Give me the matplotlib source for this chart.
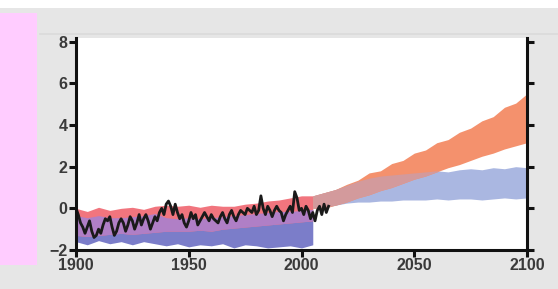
import numpy as np
import matplotlib.pyplot as plt
from matplotlib.patches import Rectangle
from matplotlib.lines import Line2D

# historical model ranges (1900-2005, every 5 years)
hist_years = [1900, 1905, 1910, 1915, 1920, 1925, 1930, 1935, 1940, 1945, 1950,
              1955, 1960, 1965, 1970, 1975, 1980, 1985, 1990, 1995, 2000, 2005]
hist_red_hi = [0.0, -0.15, 0.05, -0.1, 0.0, 0.05, -0.05, 0.1, 0.15, 0.1, 0.15,
               0.05, 0.15, 0.1, 0.1, 0.2, 0.25, 0.35, 0.4, 0.5, 0.6, 0.6]
hist_red_lo = [-1.3, -1.35, -1.3, -1.25, -1.2, -1.25, -1.2, -1.15, -1.1, -1.1, -1.1,
               -1.05, -1.1, -1.0, -0.95, -0.9, -0.85, -0.8, -0.75, -0.7, -0.65, -0.6]
hist_blue_hi = [-0.35, -0.45, -0.35, -0.45, -0.45, -0.4, -0.35, -0.25, -0.45, -0.5, -0.45,
                -0.5, -0.45, -0.4, -0.35, -0.3, -0.25, -0.2, -0.15, -0.15, -0.1, -0.05]
hist_blue_lo = [-1.6, -1.75, -1.55, -1.7, -1.6, -1.75, -1.6, -1.7, -1.8, -1.7, -1.85,
                -1.75, -1.8, -1.7, -1.9, -1.75, -1.8, -1.9, -1.85, -1.8, -1.9, -1.75]

# projections (2005-2100, every 5 years)
fut_years = [2005, 2010, 2015, 2020, 2025, 2030, 2035, 2040, 2045, 2050,
             2055, 2060, 2065, 2070, 2075, 2080, 2085, 2090, 2095, 2100]
fut_red_hi = [0.6, 0.75, 0.9, 1.15, 1.35, 1.7, 1.8, 2.15, 2.3, 2.65,
              2.8, 3.15, 3.3, 3.65, 3.85, 4.2, 4.4, 4.85, 5.05, 5.5]
fut_red_lo = [0.0, 0.0, 0.15, 0.3, 0.5, 0.65, 0.85, 1.0, 1.2, 1.4,
              1.55, 1.75, 1.95, 2.1, 2.3, 2.5, 2.65, 2.85, 3.0, 3.15]
fut_blue_hi = [0.6, 0.75, 0.9, 1.1, 1.3, 1.45, 1.55, 1.6, 1.65, 1.7,
               1.75, 1.8, 1.75, 1.85, 1.9, 1.85, 1.95, 1.9, 2.0, 1.95]
fut_blue_lo = [0.0, 0.05, 0.15, 0.25, 0.3, 0.3, 0.35, 0.35, 0.4, 0.4,
               0.4, 0.45, 0.4, 0.45, 0.45, 0.4, 0.45, 0.5, 0.45, 0.5]

# observed record
obs_years = list(range(1900, 2013))
obs = [0.0, -0.3, -0.7, -0.9, -1.2, -0.9, -0.6, -1.1, -1.4, -1.3,
       -1.0, -1.2, -0.8, -0.5, -0.6, -0.4, -0.9, -1.3, -1.1, -0.7,
       -0.5, -0.7, -1.1, -0.8, -0.4, -0.6, -1.0, -0.7, -0.3, -0.8,
       -0.5, -0.3, -0.6, -1.0, -0.7, -0.4, -0.6, -0.2, 0.0, -0.3,
       0.2, 0.35, 0.1, -0.3, 0.2, -0.2, -0.5, -0.3, -0.7, -0.9,
       -0.6, -0.2, -0.5, -0.3, -0.8, -0.6, -0.4, -0.2, -0.4, -0.6,
       -0.3, -0.5, -0.6, -0.7, -0.4, -0.2, -0.5, -0.7, -0.3, -0.1,
       -0.4, -0.6, -0.3, -0.1, -0.2, -0.3, 0.0, -0.1, -0.2, 0.1,
       -0.3, -0.1, 0.6, 0.0, -0.3, 0.1, -0.1, -0.4, -0.1, 0.1,
       -0.1, -0.2, -0.6, -0.3, -0.1, 0.1, -0.2, 0.8, 0.5, -0.1,
       0.0, -0.3, 0.1, -0.1, -0.5, -0.2, -0.6, -0.1, 0.1, -0.3,
       0.2, -0.2, 0.1]

xticks = [1900, 1950, 2000, 2050, 2100]
yticks = [-2, 0, 2, 4, 6, 8]

plt.rcParams['font.family'] = ['Liberation Sans', 'DejaVu Sans']

fig = plt.figure(figsize=(5.58, 2.89), dpi=100, facecolor='#e6e6e6')
fig.patches.append(Rectangle((0, 1 - 8 / 289), 1, 8 / 289, transform=fig.transFigure,
                             facecolor='white', edgecolor='none', zorder=0))
fig.patches.append(Rectangle((0, 1 - 265 / 289), 37 / 558, 252 / 289, transform=fig.transFigure,
                             facecolor='#ffccff', edgecolor='none', zorder=0))
fig.lines.append(Line2D([40 / 558, 1], [1 - 34 / 289] * 2, transform=fig.transFigure,
                        color='#dadada', lw=1.2))

ax = fig.add_axes([76 / 558, 1 - 250 / 289, 451 / 558, 212.5 / 289])


def draw_pair(ax, x, r_lo, r_hi, b_lo, b_hi, c_red, c_blue, c_mix):
    x = np.array(x)
    r_lo, r_hi = np.array(r_lo), np.array(r_hi)
    b_lo, b_hi = np.array(b_lo), np.array(b_hi)
    ax.fill_between(x, b_lo, b_hi, color=c_blue, lw=0)
    ax.fill_between(x, r_lo, r_hi, color=c_red, lw=0)
    lo = np.maximum(r_lo, b_lo)
    hi = np.minimum(r_hi, b_hi)
    ax.fill_between(x, lo, hi, where=hi > lo, interpolate=True, color=c_mix, lw=0)


draw_pair(ax, hist_years, hist_red_lo, hist_red_hi, hist_blue_lo, hist_blue_hi,
          '#f1757e', '#7b7dc9', '#b07fc6')
draw_pair(ax, fut_years, fut_red_lo, fut_red_hi, fut_blue_lo, fut_blue_hi,
          '#f4916d', '#aab7e1', '#d39a9c')
ax.plot(obs_years, obs, color='#1a1a1a', lw=2.0)

ax.set_xlim(1900, 2100)
ax.set_ylim(-2, 8.2)
ax.set_xticks(xticks)
ax.set_yticks(yticks)
ax.set_yticklabels(['\u22122' if v < 0 else str(v) for v in yticks])
ax.spines['top'].set_visible(False)
for s in ['left', 'right', 'bottom']:
    ax.spines[s].set_linewidth(2.2)
    ax.spines[s].set_color('#111111')
ax.tick_params(axis='both', direction='out', length=5, width=2.2, color='#111111',
               labelsize=11.5, labelcolor='#3a3a3a', pad=1)
ax.tick_params(axis='y', right=True, labelright=False)
for lab in ax.get_xticklabels() + ax.get_yticklabels():
    lab.set_fontweight('bold')

fig.savefig('out.png', dpi=100, facecolor=fig.get_facecolor())
